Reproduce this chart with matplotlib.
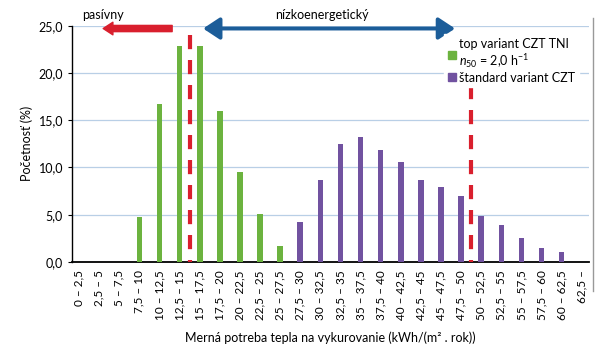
import numpy as np
import matplotlib.pyplot as plt
from matplotlib.patches import Patch
from matplotlib.lines import Line2D

plt.rcParams['font.family'] = ['Lato', 'DejaVu Sans']
plt.rcParams['mathtext.fontset'] = 'custom'
plt.rcParams['mathtext.rm'] = 'Lato'
plt.rcParams['mathtext.it'] = 'Lato:italic'

# intervaly mernej potreby tepla
intervals = ['0 – 2,5', '2,5 – 5', '5 – 7,5', '7,5 – 10', '10 – 12,5', '12,5 – 15',
             '15 – 17,5', '17,5 – 20', '20 – 22,5', '22,5 – 25', '25 – 27,5',
             '27,5 – 30', '30 – 32,5', '32,5 – 35', '35 – 37,5', '37,5 – 40',
             '40 – 42,5', '42,5 – 45', '45 – 47,5', '47,5 – 50', '50 – 52,5',
             '52,5 – 55', '55 – 57,5', '57,5 – 60', '60 – 62,5', '62,5 –']

# top variant CZT TNI (indexy 3..10)
top_idx = [3, 4, 5, 6, 7, 8, 9, 10]
top_vals = [4.8, 16.7, 22.8, 22.8, 16.0, 9.5, 5.1, 1.7]

# standard variant CZT (indexy 11..24)
std_idx = [11, 12, 13, 14, 15, 16, 17, 18, 19, 20, 21, 22, 23, 24]
std_vals = [4.2, 8.7, 12.5, 13.2, 11.9, 10.6, 8.7, 7.9, 7.0, 4.9, 3.9, 2.5, 1.5, 1.1]

# hranice: pasivny / nizkoenergeticky
limits = [5.5, 19.5]
limit_tops = [24.0, 18.7]

green = '#6cb33f'
purple = '#7152a0'
red = '#d91f2d'
blue = '#1c5d99'
grid_c = '#b9cfe6'

fig = plt.figure(figsize=(6, 3.5), dpi=100)
ax = fig.add_axes([0.12, 0.2514, 0.862, 0.6752])

ax.set_ylim(0, 25)
ax.set_xlim(-0.35, 25.37)
yt = np.arange(0, 26, 5)
ax.set_yticks(yt)
ax.set_yticklabels([('%.1f' % v).replace('.', ',') for v in yt], fontsize=9)
ax.yaxis.set_tick_params(length=3, width=0.8, color='black')
ax.grid(axis='y', color=grid_c, lw=0.9)
ax.set_axisbelow(True)

ax.set_xticks(range(len(intervals)))
ax.set_xticklabels(intervals, rotation=90, fontsize=8.5)
ax.tick_params(axis='x', length=0, pad=6)

ax.bar(top_idx, top_vals, width=0.28, color=green, zorder=3)
ax.bar(std_idx, std_vals, width=0.28, color=purple, zorder=3)

# prerusovane ciary zhora nadol
for x, top in zip(limits, limit_tops):
    ax.plot([x, x], [top, 0], color=red, lw=3, ls=(0, (3.4, 2.6)), zorder=4)

for s in ['top', 'right']:
    ax.spines[s].set_visible(False)
ax.spines['left'].set_linewidth(1.0)
ax.spines['bottom'].set_linewidth(1.3)

ax.set_ylabel('Početnosť (%)', fontsize=9)
ax.set_xlabel('Merná potreba tepla na vykurovanie (kWh/(m² . rok))', fontsize=9, labelpad=8)

# sipky nad grafom
ax.annotate('', xy=(1.2, 24.7), xytext=(4.63, 24.7), annotation_clip=False,
            arrowprops=dict(arrowstyle='simple,head_length=0.5,head_width=0.65,tail_width=0.32',
                            color=red, mutation_scale=14, shrinkA=0, shrinkB=0))
ax.annotate('', xy=(6.17, 24.7), xytext=(18.7, 24.7), annotation_clip=False,
            arrowprops=dict(arrowstyle='<|-|>,head_length=0.5,head_width=0.33',
                            color=blue, lw=2.8, mutation_scale=20, shrinkA=0, shrinkB=0))
ax.text(1.17, 26.1, 'pasívny', ha='center', va='center', fontsize=9)
ax.text(12.1, 26.1, 'nízkoenergetický', ha='center', va='center', fontsize=9)

handles = [Patch(color=green), Patch(color=purple)]
labels = ['top variant CZT TNI\n$n_{50}$ = 2,0 h$^{-1}$', 'štandard variant CZT']
leg = ax.legend(handles, labels, loc='upper left', bbox_to_anchor=(0.72, 0.965),
                fontsize=9, frameon=True, fancybox=False, framealpha=1,
                edgecolor='white', handlelength=0.6, handleheight=0.6,
                handletextpad=0.3, labelspacing=0.1, borderpad=0.3, borderaxespad=0)
leg.set_zorder(5)

# ram grafu vpravo
fig.add_artist(Line2D([0.988, 0.988], [0.17, 0.95], color='#999999', lw=1.0))

fig.savefig('out.png', dpi=100)
